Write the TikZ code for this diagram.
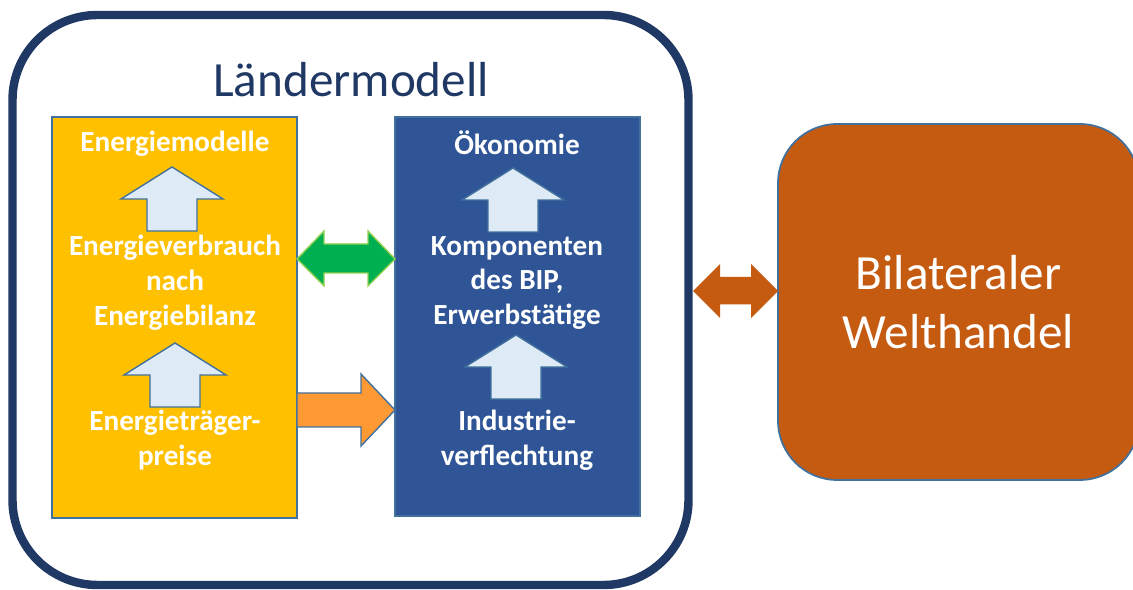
\documentclass[tikz,border=0pt]{standalone}
\usepackage{fontspec}
\setmainfont{Carlito}
\usepackage{tikz}
\usetikzlibrary{positioning}
\usepackage{xcolor}
\definecolor{landNavy}{HTML}{203864}
\definecolor{landYellow}{HTML}{FFC000}
\definecolor{landBlue}{HTML}{2F5597}
\definecolor{landEdge}{HTML}{41719C}
\definecolor{landPale}{HTML}{DEEBF7}
\definecolor{landGreen}{HTML}{00B050}
\definecolor{landLime}{HTML}{92D050}
\definecolor{landOrange}{HTML}{FF9933}
\definecolor{landBrown}{HTML}{C55A11}

% block arrow pointing up, tip at (#1,#2)
\newcommand{\uparr}[2]{%
  \draw[landEdge,line width=0.8pt,fill=landPale] (#1,#2) -- ({#1+51},{#2+32}) -- ({#1+25},{#2+32}) -- ({#1+25},{#2+64})
    -- ({#1-25},{#2+64}) -- ({#1-25},{#2+32}) -- ({#1-51},{#2+32}) -- cycle;}

\begin{document}
\begin{tikzpicture}[x=0.02cm,y=-0.02cm,
  every node/.style={inner sep=0pt,align=center},
  lbl/.style={font=\bfseries\fontsize{16.6}{19.9}\selectfont,text=white},
  big/.style={font=\fontsize{28}{33.6}\selectfont}]
\useasboundingbox (0,0) rectangle (1133,590);
\draw[landNavy,line width=4.8pt,rounded corners=1.7cm] (12.5,15) rectangle (688.5,585);
\node[big,text=landNavy,anchor=base] (titel) at (351,97) {Ländermodell};
\node[draw=landEdge,line width=1pt,fill=landYellow,minimum width=4.9cm,minimum height=8.02cm] (enbox) at (174.5,317.5) {};
\node[draw=landEdge,line width=1pt,fill=landBlue,minimum width=4.9cm,minimum height=7.98cm] (oekbox) at (517.5,316.5) {};
\node[draw=landEdge,line width=1pt,fill=landBrown,rounded corners=1.18cm,minimum width=7.22cm,minimum height=7.12cm,big,text=white] (handel) at (958.5,302) {Bilateraler\\Welthandel};
\node[lbl] (enmod) at (175,144) {Energiemodelle};
\node[lbl] (enverb) at (175,283) {Energieverbrauch\\nach\\Energiebilanz};
\node[lbl] (enpreis) at (175,440) {Energieträger-\\preise};
\node[lbl] (oekon) at (517,143) {Ökonomie};
\node[lbl] (bip) at (517,283) {Komponenten\\des BIP,\\Erwerbstätige};
\node[lbl] (indust) at (517,440) {Industrie-\\verflechtung};
\uparr{172}{167}
\uparr{175}{343}
\uparr{513}{168}
\uparr{516}{335}
% horizontal arrows
\draw[draw=landLime,line width=0.8pt,fill=landGreen] (297,259) -- (324,231) -- (324,244) -- (368,244) -- (368,231) -- (395,259)
  -- (368,286) -- (368,273) -- (324,273) -- (324,286) -- cycle;
\draw[draw=landEdge,line width=0.8pt,fill=landOrange] (297,393) -- (361,393) -- (361,374) -- (395,410) -- (361,446) -- (361,427) -- (297,427) -- cycle;
\fill[landBrown] (693,291) -- (720,264) -- (720,277) -- (751,277) -- (751,264) -- (778,291) -- (751,318) -- (751,304.5)
  -- (720,304.5) -- (720,318) -- cycle;
\end{tikzpicture}
\end{document}
